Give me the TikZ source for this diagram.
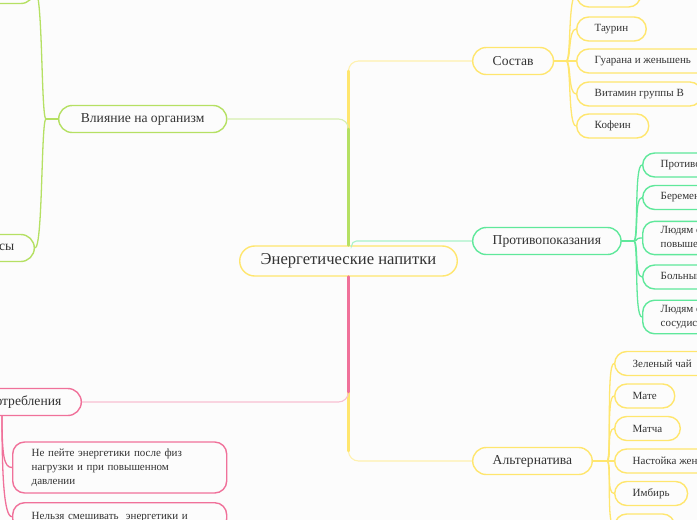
\documentclass[tikz,border=0pt]{standalone}
\usepackage{fontspec}
\setmainfont{Liberation Serif}

\definecolor{mmyellow}{HTML}{FFE66E}
\definecolor{mmpaleyellow}{HTML}{FFF1AE}
\definecolor{mmlime}{HTML}{B5E063}
\definecolor{mmpalelime}{HTML}{D6EFAE}
\definecolor{mmgreen}{HTML}{5FE89B}
\definecolor{mmpalegreen}{HTML}{A9F2C8}
\definecolor{mmpink}{HTML}{F0719A}
\definecolor{mmpalepink}{HTML}{F8BFD1}
\definecolor{mmtext}{HTML}{333333}
\definecolor{mmbg}{HTML}{FCFCFC}

\begin{document}
\begin{tikzpicture}[x=1pt,y=-1pt,
  bubble/.style={draw,line width=1.4pt,fill=mmbg,text=mmtext,inner ysep=0pt},
  rootbox/.style={bubble,draw=mmyellow,rounded corners=15pt,minimum height=30pt,
    inner xsep=21pt,font=\fontsize{16.6}{18}\selectfont},
  topicbox/.style={bubble,rounded corners=13.5pt,minimum height=27pt,
    inner xsep=20pt,font=\fontsize{13.6}{15}\selectfont},
  leafbox/.style={bubble,rounded corners=12pt,minimum height=24pt,
    inner xsep=18pt,font=\fontsize{11}{14}\selectfont},
  notebox/.style={leafbox,align=left,inner ysep=5pt},
  trunk/.style={line width=2.6pt,line cap=round},
  twig/.style={line width=1.3pt},
  link/.style={line width=1.1pt,rounded corners=10pt}]

  % Canvas and margins
  \useasboundingbox (0,0) rectangle (697,520);
  \clip (0,0) rectangle (697,520);
  \fill[mmbg] (0,0) rectangle (697,520);

  % Central topic
  \node[rootbox] (ctr) at (348.5,261) {Энергетические напитки};

  % Main branches
  \node[topicbox,draw=mmyellow,anchor=west] (sostav) at (472,61) {Состав};
  \node[topicbox,draw=mmgreen,anchor=west] (protiv) at (472,241) {Противопоказания};
  \node[topicbox,draw=mmyellow,anchor=west] (altern) at (472,461) {Альтернатива};
  \node[topicbox,draw=mmlime,anchor=west,minimum width=168pt] (vliyanie) at (58,119) {Влияние на организм};
  \node[topicbox,draw=mmlime,anchor=east] (plusy) at (35,-10) {Плюсы};
  \node[topicbox,draw=mmlime,anchor=east] (minusy) at (35,248) {Минусы};
  \node[topicbox,draw=mmpink,anchor=east] (pravila) at (82,402) {Правила употребления};

  % Composition
  \node[leafbox,draw=mmyellow,anchor=west] (sahar) at (576,-5) {Сахар};
  \node[leafbox,draw=mmyellow,anchor=west] (taurin) at (576,29) {Таурин};
  \node[leafbox,draw=mmyellow,anchor=west] (guarana) at (576,61) {Гуарана и женьшень};
  \node[leafbox,draw=mmyellow,anchor=west] (vitamin) at (576,94) {Витамин группы В};
  \node[leafbox,draw=mmyellow,anchor=west] (kofein) at (576,126) {Кофеин};

  % Contraindications
  \node[leafbox,draw=mmgreen,anchor=west] (deti) at (642,165) {Противопоказано детям};
  \node[leafbox,draw=mmgreen,anchor=west] (berem) at (642,197.5) {Беременным женщинам};
  \node[notebox,draw=mmgreen,anchor=west] (davlen) at (642,238) {Людям с\\повышенным давлением};
  \node[leafbox,draw=mmgreen,anchor=west] (bolnye) at (642,277) {Больным диабетом};
  \node[notebox,draw=mmgreen,anchor=west] (serdce) at (642,317) {Людям с сердечно-\\сосудистыми заболеваниями};

  % Alternatives
  \node[leafbox,draw=mmyellow,anchor=west] (chai) at (614,363.5) {Зеленый чай};
  \node[leafbox,draw=mmyellow,anchor=west] (mate) at (614,396) {Мате};
  \node[leafbox,draw=mmyellow,anchor=west] (matcha) at (614,428.5) {Матча};
  \node[leafbox,draw=mmyellow,anchor=west] (nastoika) at (614,461) {Настойка женьшеня};
  \node[leafbox,draw=mmyellow,anchor=west] (imbir) at (614,493.5) {Имбирь};
  \node[leafbox,draw=mmyellow,anchor=west,minimum width=60pt] (ext) at (614,526) {};

  % Rules of use
  \node[notebox,draw=mmpink,anchor=west,minimum width=214pt,text width=176pt,
        minimum height=51pt] (posle) at (12,467.5)
        {Не пейте энергетики после физ\\нагрузки и при повышенном\\давлении};
  \node[notebox,draw=mmpink,anchor=north west,minimum width=214pt,text width=176pt,
        minimum height=28pt] (alko) at (12,502) {Нельзя смешивать\ \ энергетики и};

  % Links from the centre (pale tails first, thick trunks on top)
  \draw[link,mmpaleyellow] (ctr.north) |- (sostav.west);
  \draw[trunk,mmyellow] (ctr.north) -- (348.5,71);
  \draw[link,mmpalelime] (ctr.north) |- (vliyanie.east);
  \draw[trunk,mmlime] (ctr.north) -- (348.5,129);
  \draw[link,mmpalegreen,rounded corners=5pt] ([xshift=3pt]ctr.north) |- (protiv.west);
  \draw[link,mmpaleyellow] (ctr.south) |- (altern.west);
  \draw[trunk,mmyellow] (ctr.south) -- (348.5,451);
  \draw[link,mmpalepink] (ctr.south) |- (pravila.east);
  \draw[trunk,mmpink] (ctr.south) -- (348.5,392);

  % Composition fork
  \draw[trunk,mmyellow] (sostav.east) -- ++(12,0) coordinate (sfork);
  \foreach \leaf in {sahar,taurin,guarana,vitamin,kofein}
    \draw[twig,mmyellow] (sfork) .. controls +(5,0) and +(-8,0) .. (\leaf.west);

  % Contraindications fork
  \draw[trunk,mmgreen] (protiv.east) -- ++(12,0) coordinate (pfork);
  \foreach \leaf in {deti,berem,davlen,bolnye,serdce}
    \draw[twig,mmgreen] (pfork) .. controls +(5,0) and +(-8,0) .. (\leaf.west);

  % Alternatives fork
  \draw[trunk,mmyellow] (altern.east) -- ++(14,0) coordinate (afork);
  \foreach \leaf in {chai,mate,matcha,nastoika,imbir,ext}
    \draw[twig,mmyellow] (afork) .. controls +(5,0) and +(-8,0) .. (\leaf.west);

  % Effects fork
  \draw[trunk,mmlime] (vliyanie.west) -- ++(-12,0) coordinate (vfork);
  \foreach \leaf in {plusy,minusy}
    \draw[twig,mmlime] (vfork) .. controls +(-5,0) and +(8,0) .. (\leaf.east);

  % Rules fork
  \coordinate (rfork) at (2,416);
  \draw[twig,mmpink] (rfork) .. controls +(0,40) and +(-8,0) .. (posle.west);
  \draw[twig,mmpink] (rfork) .. controls +(0,60) and +(-8,0) .. (alko.west);

\end{tikzpicture}
\end{document}
